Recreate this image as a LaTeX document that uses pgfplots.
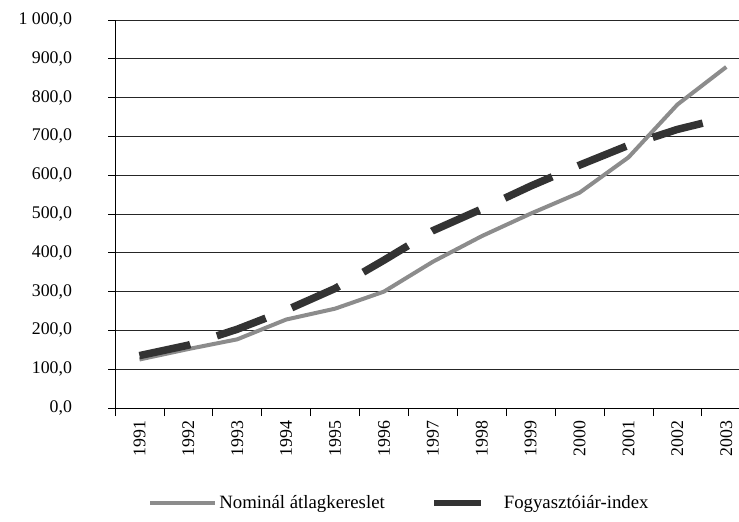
\documentclass[border=0pt]{standalone}
\usepackage{fontspec}
\setmainfont{Liberation Serif}
\usepackage{pgfplots}
\pgfplotsset{compat=1.18}
\definecolor{nomgray}{HTML}{8C8C8C}
\definecolor{cpidark}{HTML}{333333}
\begin{document}
\fontsize{17.5}{21}\selectfont
\begin{tikzpicture}[x=1pt,y=1pt]
\useasboundingbox (0,0) rectangle (739,522);
\begin{axis}[
  at={(115pt,114pt)}, anchor=south west,
  width=624pt, height=388pt, scale only axis,
  xmin=-0.5, xmax=12.26, ymin=0, ymax=1000,
  axis lines=left, axis line style={-, black, line width=0.8pt},
  ytick={0,100,...,1000},
  ymajorgrids, grid style={black!85, line width=0.6pt},
  xtick={0,...,12},
  xticklabels={1991,1992,1993,1994,1995,1996,1997,1998,1999,2000,2001,2002,2003},
  major x tick style={draw=none},
  minor xtick={-0.5,0.5,...,11.5},
  minor x tick style={black, line width=0.8pt},
  major y tick style={black, line width=0.8pt},
  minor tick length=8pt, major tick length=7pt,
  tick align=outside,
  xticklabel style={rotate=90, anchor=east, font=\fontsize{17.8}{21}\selectfont},
  yticklabel style={font=\fontsize{17.8}{21}\selectfont, xshift=-30pt},
  /pgf/number format/.cd, fixed, fixed zerofill, precision=1, use comma, 1000 sep={\ }, assume math mode=true,
  /pgfplots/.cd,
  legend style={at={(0.4559,-0.245)}, anchor=center, draw=none, legend columns=2,
    /tikz/every even column/.append style={column sep=47pt},
    font=\fontsize{18.8}{22}\selectfont},
  legend cell align=left,
]
\addplot[nomgray, line width=4pt, line join=round,
  legend image code/.code={\draw[nomgray, solid, line width=4pt] (0pt,0pt) -- (65pt,0pt);}]
  coordinates {(0,125) (1,152) (2,177) (3,228) (4,256) (5,300) (6,377) (7,443) (8,501) (9,555) (10,646) (11,782) (12,879)};
\addlegendentry{Nominál átlagkereslet}
\addplot[cpidark, line width=7.5pt, dash pattern=on 52pt off 28pt,
  legend image code/.code={\node[fill=cpidark, draw=none, solid, minimum width=47pt, minimum height=6.4pt, inner sep=0pt, outer sep=0pt, anchor=west] at (0pt,0pt) {}; \path[draw=none, fill=none] (0pt,0pt) -- (68pt,0pt);}]
  coordinates {(0,135) (1,162) (2,203) (3,252) (4,308) (5,381) (6,457) (7,513) (8,572) (9,626) (10,677) (11,718) (12,749)};
\addlegendentry{Fogyasztóiár-index}
\end{axis}
\end{tikzpicture}
\end{document}
